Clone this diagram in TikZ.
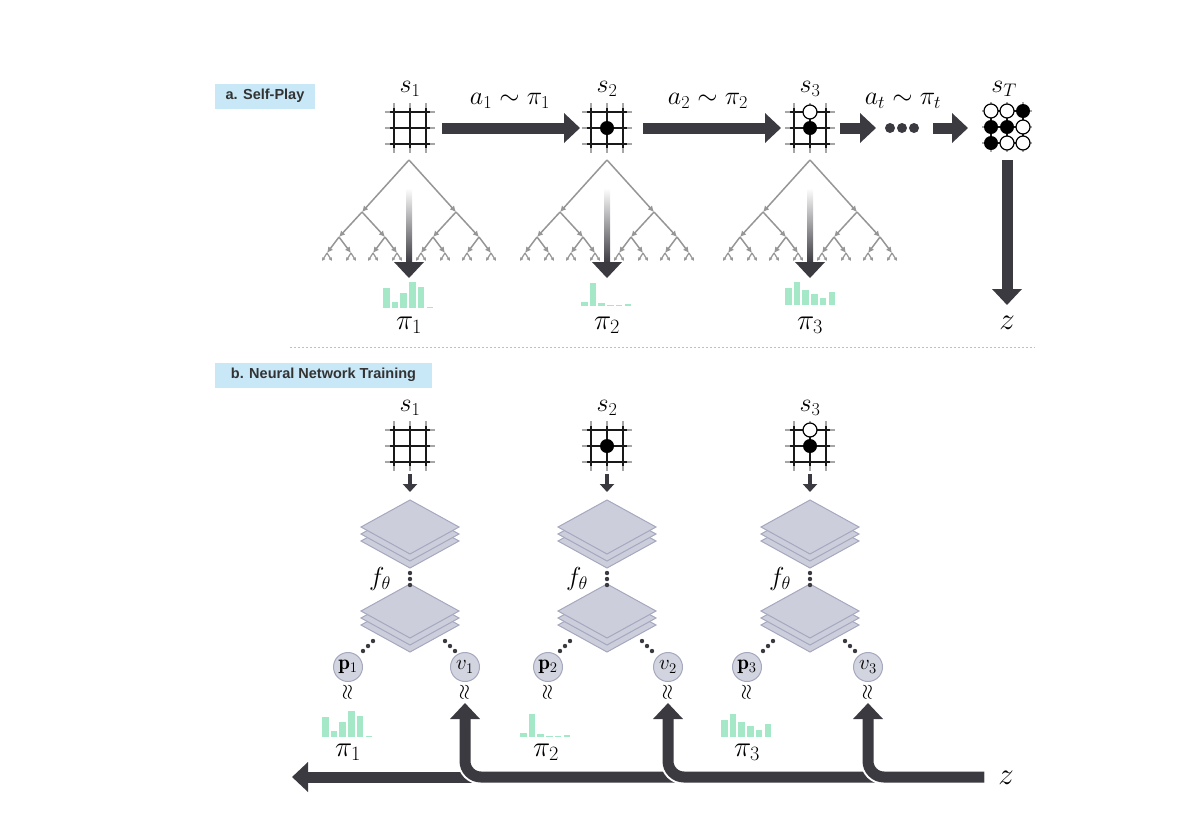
\RequirePackage{fix-cm}
\documentclass[tikz,border=0pt]{standalone}
\usepackage{amsmath}
\usepackage{fontspec}
\newfontfamily\hv{Liberation Sans}
\usetikzlibrary{arrows.meta}
\definecolor{dk}{RGB}{58,58,64}
\definecolor{tg}{RGB}{150,150,150}
\definecolor{barc}{RGB}{165,232,200}
\definecolor{lbl}{RGB}{200,232,248}
\definecolor{layf}{RGB}{204,206,220}
\definecolor{layd}{RGB}{165,168,190}
\definecolor{circf}{RGB}{210,212,224}
\newcommand\distbars[3]{\foreach \h [count=\i] in {#3} {\fill[barc] ({#1+(\i-1)*8.7},#2) rectangle ++(6.5,-\h);}}
\tikzset{
  mlab/.style={font=\fontsize{26}{28}\selectfont, inner sep=0},
  plab/.style={font=\fontsize{29}{31}\selectfont, inner sep=0},
  zlab/.style={font=\fontsize{31}{33}\selectfont, inner sep=0},
  bigarr/.style={draw=dk, line width=11pt, -{Triangle[width=29pt,length=16pt]}},
  smallarr/.style={draw=dk, line width=4pt, -{Triangle[width=14pt,length=8pt]}},
  treearr/.style={draw=tg, line width=1.5pt, -{Latex[length=6pt,width=6pt]}},
  tinyarr/.style={draw=tg, line width=1.2pt, -{Latex[length=3.5pt,width=4pt]}},
  secbox/.style={fill=lbl, font=\hv\bfseries\fontsize{14.5}{16}\selectfont, text=black!80, inner sep=0, minimum height=25pt},
  pv/.style={circle, fill=circf, draw=layd, line width=1pt, minimum size=29pt, inner sep=0, font=\fontsize{21}{22}\selectfont},
  wst/.style={fill=white, draw=black, line width=1.2pt},
  bst/.style={fill=black},
  layer/.style={fill=layf, draw=layd, line width=1pt},
  dotc/.style={fill=dk},
  board/.pic={
    \foreach \v in {-16,0,16}{
      \draw[black!35, line width=1.6pt] (\v,-25) -- (\v,25) (-25,\v) -- (25,\v);
      \draw[black!90, line width=1.8pt] (\v,-20) -- (\v,20) (-20,\v) -- (20,\v);
    }},
  stack/.pic={
    \foreach \o in {14,7,0}{
      \draw[layer] (0,\o) -- (49,27+\o) -- (0,54+\o) -- (-49,27+\o) -- cycle;
    }},
  mcts/.pic={
    \foreach \a in {-1,1}{
      \draw[treearr] (0,0) -- (47*\a,52);
      \foreach \b in {-1,1}{
        \draw[treearr] (47*\a,52) -- (47*\a+23*\b,77);
        \foreach \c in {-1,1}{
          \draw[treearr] (47*\a+23*\b,77) -- (47*\a+23*\b+12*\c,93);
          \foreach \d in {-1,1}{
            \draw[tinyarr] (47*\a+23*\b+12*\c,93) -- (47*\a+23*\b+12*\c+5*\d,101);
          }}}}
    \shade[top color=white, bottom color=dk] (-3,28) rectangle (3,103);
    \fill[dk] (-15,102) -- (15,102) -- (0,118) -- cycle;
  }
}
\begin{document}
\begin{tikzpicture}[x=1pt,y=-1pt]
\useasboundingbox (0,0) rectangle (1199,815);

% ---------- section labels
\node[secbox, minimum width=100pt] (secA) at (265,96) {a. Self-Play};
\node[secbox, minimum width=217pt] (secB) at (323.5,375) {b. Neural Network Training};

% ---------- a. self-play
\pic at (410,128) {board};
\pic at (607,128) {board};
\pic at (810,128) {board};
\pic at (1007,127) {board};
\fill[bst] (607,128) circle[radius=7pt];
\draw[wst] (810,112) circle[radius=7pt];
\fill[bst] (810,128) circle[radius=7pt];
% s_T stones
\draw[wst] (991,111) circle[radius=7pt];
\draw[wst] (1007,111) circle[radius=7pt];
\fill[bst] (1023,111) circle[radius=7pt];
\fill[bst] (991,127) circle[radius=7pt];
\fill[bst] (1007,127) circle[radius=7pt];
\draw[wst] (1023,127) circle[radius=7pt];
\fill[bst] (991,143) circle[radius=7pt];
\draw[wst] (1007,143) circle[radius=7pt];
\draw[wst] (1023,143) circle[radius=7pt];

\node[mlab] (s1) at (410,89) {$s_1$};
\node[mlab] (s2) at (607,89) {$s_2$};
\node[mlab] (s3) at (810,89) {$s_3$};
\node[mlab] (sT) at (1004,89) {$s_T$};

\coordinate (a1s) at (442,128); \coordinate (a1e) at (580,128);
\coordinate (a2s) at (643,128); \coordinate (a2e) at (781,128);
\coordinate (a3s) at (840,128); \coordinate (a3e) at (876,128);
\coordinate (a4s) at (933,128); \coordinate (a4e) at (968,128);
\draw[bigarr] (a1s) -- (a1e);
\draw[bigarr] (a2s) -- (a2e);
\draw[bigarr] (a3s) -- (a3e);
\draw[bigarr] (a4s) -- (a4e);
\fill[dotc] (890,128) circle[radius=5pt] (902,128) circle[radius=5pt] (914,128) circle[radius=5pt];
\node[mlab] (l1) at (510,101) {$a_1\sim\pi_1$};
\node[mlab] (l2) at (708,101) {$a_2\sim\pi_2$};
\node[mlab] (l3) at (903,101) {$a_t\sim\pi_t$};

\coordinate (zs) at (1007,160); \coordinate (ze) at (1007,305);
\draw[bigarr] (zs) -- (ze);
\node[zlab] (zt) at (1007,323) {$z$};

\pic at (409,160) {mcts};
\pic at (607,160) {mcts};
\pic at (810,160) {mcts};

\distbars{383}{308}{20,6,15,26,21,1.5}
\distbars{581}{306}{4,23,3,1.5,1.5,2}
\distbars{785}{305}{17,23,15,11,7,13}
\node[plab] (pt1) at (409,325) {$\pi_1$};
\node[plab] (pt2) at (607,325) {$\pi_2$};
\node[plab] (pt3) at (810,325) {$\pi_3$};

\draw[gray!50, line width=0.6pt, dash pattern=on 2pt off 2pt] (290,347) -- (1035,347);

% ---------- b. training
\foreach \x/\k in {410/1,607/2,810/3}{
  \node[mlab] (bs\k) at (\x,408) {$s_\k$};
  \pic at (\x,446) {board};
  \coordinate (ia\k) at (\x,474); \coordinate (ib\k) at (\x,492);
  \draw[smallarr] (ia\k) -- (ib\k);
  \pic at (\x,500) {stack};
  \pic at (\x,584) {stack};
  \fill[dotc] (\x,573) circle[radius=2.2pt] (\x,579) circle[radius=2.2pt] (\x,585) circle[radius=2.2pt];
  \node[mlab] (f\k) at (\x-30,579) {$f_\theta$};
}
\fill[bst] (607,446) circle[radius=7pt];
\draw[wst] (810,430) circle[radius=7pt];
\fill[bst] (810,446) circle[radius=7pt];

\node[pv] (p1) at (348,667) {$\mathbf{p}_1$};
\node[pv] (v1) at (465,667) {$v_1$};
\node[pv] (p2) at (548,667) {$\mathbf{p}_2$};
\node[pv] (v2) at (668,667) {$v_2$};
\node[pv] (p3) at (747,667) {$\mathbf{p}_3$};
\node[pv] (v3) at (868,667) {$v_3$};

\foreach \x/\px/\vx in {410/348/465,607/548/668,810/747/868}{
  \fill[dotc] (\x-37,641) circle[radius=2.2pt] (\x-42,646) circle[radius=2.2pt] (\x-47,651) circle[radius=2.2pt];
  \fill[dotc] (\x+35,641) circle[radius=2.2pt] (\x+40,646) circle[radius=2.2pt] (\x+45,651) circle[radius=2.2pt];
  \node[rotate=90, font=\fontsize{21}{21}\selectfont, inner sep=0] at (\px,692) {$\approx$};
  \node[rotate=90, font=\fontsize{21}{21}\selectfont, inner sep=0] at (\vx,692) {$\approx$};
}

\distbars{322}{737}{20,6,15,26,21,1.5}
\distbars{520}{737}{4,23,3,1.5,1.5,2}
\distbars{721}{737}{17,23,15,11,7,13}
\node[plab] (q1) at (348,752) {$\pi_1$};
\node[plab] (q2) at (546,752) {$\pi_2$};
\node[plab] (q3) at (747,752) {$\pi_3$};

% ---------- bottom arrows
\coordinate (zb) at (984,777);
\coordinate (left) at (292,777);
\coordinate (u1) at (465,703);
\coordinate (u2) at (668,703);
\coordinate (u3) at (868,703);
\draw[bigarr] (zb) -- (left);
\foreach \k in {1,2,3}{
  \draw[white, line width=15pt, rounded corners=16pt] (zb) -| ([yshift=-20pt]u\k);
  \draw[bigarr, rounded corners=16pt] (zb) -| (u\k);
}
\node[zlab] (zbl) at (1006,778) {$z$};
\end{tikzpicture}
\end{document}
